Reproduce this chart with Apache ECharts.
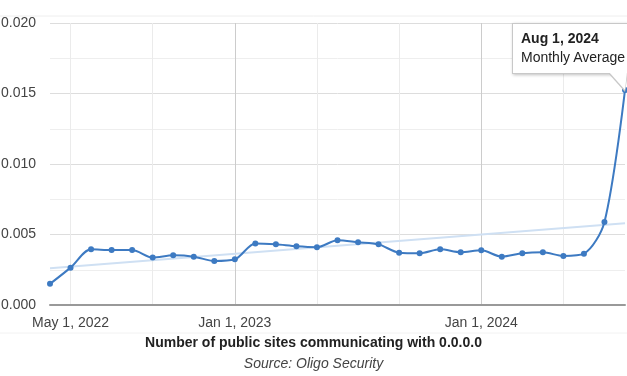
<!DOCTYPE html>
<html>
<head>
<meta charset="utf-8">
<script src="https://cdn.jsdelivr.net/npm/echarts@6/dist/echarts.min.js"></script>
<style>
  html, body { margin: 0; padding: 0; background: #fff; overflow: hidden; }
  #chart { width: 627px; height: 376px; position: relative; overflow: hidden; }
</style>
</head>
<body>
<div id="chart"></div>
<script>
// months Apr 2022 .. Aug 2024
const months = ['Apr 1, 2022','May 1, 2022','Jun 1, 2022','Jul 1, 2022','Aug 1, 2022','Sep 1, 2022',
  'Oct 1, 2022','Nov 1, 2022','Dec 1, 2022','Jan 1, 2023','Feb 1, 2023','Mar 1, 2023','Apr 1, 2023',
  'May 1, 2023','Jun 1, 2023','Jul 1, 2023','Aug 1, 2023','Sep 1, 2023','Oct 1, 2023','Nov 1, 2023',
  'Dec 1, 2023','Jan 1, 2024','Feb 1, 2024','Mar 1, 2024','Apr 1, 2024','May 1, 2024','Jun 1, 2024',
  'Jul 1, 2024','Aug 1, 2024']
const monthlyAvg = [0.0015, 0.00265, 0.00395, 0.0039, 0.0039, 0.00336, 0.00352, 0.00343, 0.00312,
  0.00324, 0.00437, 0.0043, 0.00416, 0.0041, 0.00459, 0.00445, 0.0043, 0.00371, 0.00367, 0.00395,
  0.00374, 0.00388, 0.00343, 0.00367, 0.00374, 0.00348, 0.00364, 0.00589, 0.01525]
const trendEnds = [0.0026, 0.0058]
const shownLabels = ['May 1, 2022', 'Jan 1, 2023', 'Jan 1, 2024']
const yTicks = ['0.000', '0.005', '0.010', '0.015', '0.020']

const font = "'Liberation Sans', Arial, sans-serif"
const chart = echarts.init(document.getElementById('chart'))

chart.setOption({
  animation: false,
  textStyle: { fontFamily: font },
  title: [
    {
      text: 'Number of public sites communicating with 0.0.0.0',
      left: 'center', top: 331,
      textStyle: { fontSize: 14, fontWeight: 'bold', color: '#222', fontFamily: font }
    },
    {
      text: 'Source: Oligo Security',
      left: 'center', top: 352,
      textStyle: { fontSize: 14, fontWeight: 'normal', fontStyle: 'italic', color: '#444', fontFamily: font }
    }
  ],
  graphic: [
    { type: 'line', shape: { x1: 0, y1: 16, x2: 627, y2: 16 }, style: { stroke: '#eeeeee', lineWidth: 1 } },
    { type: 'line', shape: { x1: 0, y1: 333, x2: 627, y2: 333 }, style: { stroke: '#f2f2f2', lineWidth: 1 } }
  ],
  grid: { left: 50, right: 2, top: 23, bottom: 71, outerBoundsMode: 'none', containLabel: false },
  tooltip: {
    trigger: 'item',
    alwaysShowContent: true,
    transitionDuration: 0,
    position: [512, 23],
    backgroundColor: '#fff',
    borderColor: '#c8c8c8',
    borderWidth: 1,
    padding: [5, 10, 6, 8],
    extraCssText: 'border-radius:0;box-shadow:1px 1px 3px rgba(0,0,0,0.25);line-height:19px;white-space:nowrap;',
    formatter: p =>
      '<div style="font:bold 14px ' + font + ';color:#222;line-height:19px">' + months[p.dataIndex] + '</div>' +
      '<div style="font:14px ' + font + ';color:#222;line-height:19px">Monthly Average</div>' +
      '<div style="position:absolute;left:95px;bottom:-19px;width:0;height:0;border-left:17px solid transparent;border-right:3px solid transparent;border-top:19px solid #c8c8c8"></div>' +
      '<div style="position:absolute;left:96px;bottom:-17px;width:0;height:0;border-left:16px solid transparent;border-right:2px solid transparent;border-top:18px solid #fff"></div>'
  },
  xAxis: {
    type: 'category',
    data: months,
    boundaryGap: false,
    axisLine: { lineStyle: { color: '#999', width: 2 } },
    axisTick: { show: false },
    axisLabel: {
      interval: (i, v) => shownLabels.includes(v),
      color: '#444', fontSize: 14, margin: 11, fontFamily: font
    },
    splitLine: {
      show: true,
      interval: i => i % 4 === 1,
      lineStyle: { color: ['#ebebeb', '#ebebeb', '#cccccc'], width: 1 }
    }
  },
  yAxis: {
    type: 'value',
    min: 0, max: 0.02, interval: 0.0025,
    axisLine: { show: false },
    axisTick: { show: false },
    axisLabel: {
      color: '#444', fontSize: 14, margin: 14, fontFamily: font,
      formatter: v => {
        const s = v.toFixed(3)
        return yTicks.includes(s) && Math.abs(v * 200 - Math.round(v * 200)) < 1e-6 ? s : ''
      }
    },
    splitLine: { lineStyle: { color: ['#dddddd', '#eeeeee'], width: 1 } }
  },
  series: [
    {
      name: 'Trend',
      type: 'line',
      data: [[0, trendEnds[0]], [months.length - 1, trendEnds[1]]],
      symbol: 'none',
      lineStyle: { color: '#cfe0f3', width: 2 },
      silent: true,
      tooltip: { show: false },
      z: 1
    },
    {
      name: 'Monthly Average',
      type: 'line',
      data: monthlyAvg,
      smooth: 0.3,
      symbol: 'circle',
      symbolSize: 6,
      itemStyle: { color: '#3d7ac2' },
      lineStyle: { color: '#3d7ac2', width: 2 },
      emphasis: { disabled: true },
      z: 3
    }
  ]
})

chart.dispatchAction({ type: 'showTip', seriesIndex: 1, dataIndex: monthlyAvg.length - 1 })
</script>
</body>
</html>
